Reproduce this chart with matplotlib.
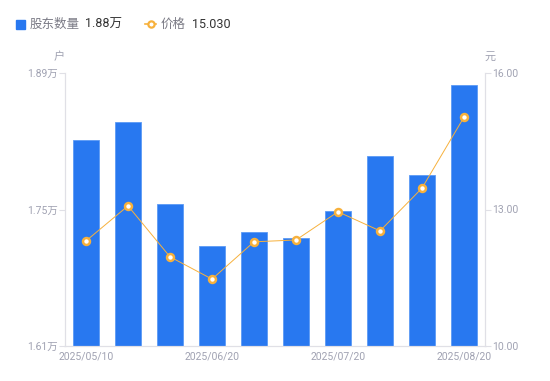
import matplotlib
matplotlib.use("Agg")
import matplotlib.pyplot as plt
from matplotlib.lines import Line2D

plt.rcParams['font.family'] = ['Roboto', 'Noto Sans CJK SC', 'DejaVu Sans']

dates = ["2025/05/10", "2025/05/20", "2025/05/30", "2025/06/20", "2025/06/30",
         "2025/07/10", "2025/07/20", "2025/07/31", "2025/08/10", "2025/08/20"]
holders = [1.8213, 1.8397, 1.7556, 1.7126, 1.7269, 1.7208, 1.7485, 1.8049, 1.7854, 1.8777]  # 万户
price = [12.31, 13.08, 11.96, 11.47, 12.29, 12.33, 12.95, 12.53, 13.47, 15.03]
left_ticks = [1.61, 1.75, 1.89]
right_ticks = [10.00, 13.00, 16.00]
shown_labels = ["2025/05/10", "2025/06/20", "2025/07/20", "2025/08/20"]

BLUE = "#2878F0"
ORANGE = "#F7B13C"
AXIS = "#E0E0E6"
TICKC = "#A0A2B2"

W, H = 550, 381
fig = plt.figure(figsize=(W / 100, H / 100), dpi=100)
ax = fig.add_axes([65 / W, 1 - 346 / H, 420 / W, 273 / H])
ax2 = ax.twinx()

x = list(range(len(dates)))
ax.bar(x, holders, width=0.6, color=BLUE, edgecolor="#5C9AF5", linewidth=0.6, zorder=2)
ax.set_xlim(-0.5, len(dates) - 0.5)
ax.set_ylim(left_ticks[0], left_ticks[-1])
ax.set_yticks(left_ticks)
ax.set_yticklabels([f"{v:.2f}万" for v in left_ticks])

ax2.plot(x, price, color=ORANGE, linewidth=0.7, marker="o", markersize=5,
         markerfacecolor="white", markeredgecolor=ORANGE, markeredgewidth=1.8, zorder=3)
ax2.set_ylim(right_ticks[0], right_ticks[-1])
ax2.set_yticks(right_ticks)
ax2.set_yticklabels([f"{v:.2f}" for v in right_ticks])

ax.set_xticks([dates.index(d) for d in shown_labels])
ax.set_xticklabels(shown_labels)

for a in (ax, ax2):
    for s in a.spines.values():
        s.set_color(AXIS)
        s.set_linewidth(0.8)
    a.spines['top'].set_visible(False)
    a.tick_params(colors=AXIS, labelcolor=TICKC, labelsize=7.5, length=4, width=0.8)
ax.tick_params(axis='x', length=0, pad=4)
ax.tick_params(axis='y', pad=1)
ax2.tick_params(axis='y', pad=1)

fig.text(59 / W, 1 - 57 / H, "户", color=TICKC, fontsize=8, ha="center", va="center")
fig.text(490 / W, 1 - 57 / H, "元", color=TICKC, fontsize=8, ha="center", va="center")

# legend
fig.patches.append(plt.Rectangle((16 / W, 1 - 29 / H), 9 / W, 9 / H, transform=fig.transFigure,
                                 color=BLUE, figure=fig))
fig.text(30 / W, 1 - 24 / H, "股东数量", color="#7A7A85", fontsize=9, va="center")
fig.text(85 / W, 1 - 24 / H, f"{holders[-1]:.2f}万", color="#333333", fontsize=9, va="center")
fig.add_artist(Line2D([145 / W, 156 / W], [1 - 24 / H, 1 - 24 / H], transform=fig.transFigure,
                      color=ORANGE, linewidth=1.2))
fig.add_artist(Line2D([150.5 / W], [1 - 24 / H], transform=fig.transFigure, marker="o",
                      markersize=4.5, markerfacecolor="white", markeredgecolor=ORANGE,
                      markeredgewidth=1.6))
fig.text(161 / W, 1 - 24 / H, "价格", color="#7A7A85", fontsize=9, va="center")
fig.text(192 / W, 1 - 24 / H, f"{price[-1]:.3f}", color="#333333", fontsize=9, va="center")

fig.savefig("out.png", dpi=100)
